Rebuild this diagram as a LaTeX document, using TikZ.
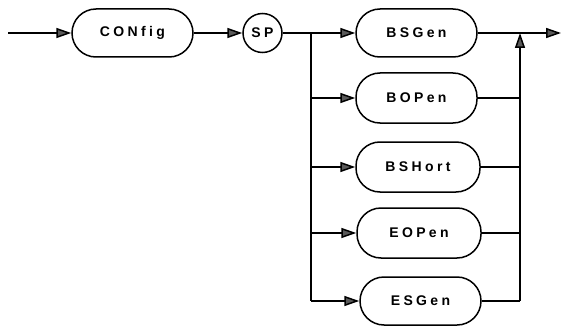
\documentclass[tikz,border=0pt]{standalone}
\usepackage{fontspec}
\setmainfont{Liberation Sans}
\newfontfamily\synfont[LetterSpace=24]{Liberation Sans Bold}
\usetikzlibrary{arrows.meta}
\definecolor{tipgray}{gray}{0.35}
\begin{document}
\begin{tikzpicture}[x=1pt,y=-1pt,
  line width=1.5pt,
  every node/.style={font=\synfont\fontsize{14}{16}\selectfont},
  kw/.style={draw,rounded corners=24pt,minimum width=121pt,minimum height=48pt,inner sep=0pt},
  spc/.style={draw,circle,minimum size=39pt,inner sep=0pt},
  arr/.style={-{Triangle[length=15pt,width=10pt,fill=tipgray,color=black]}}]
\useasboundingbox (0,0) rectangle (562,329);
\coordinate (start) at (8,33);
\node[kw] (config) at (132.5,33) {CONfig};
\node[spc] (sp) at (262.5,33) {SP};
\node[kw] (bsgen) at (416.5,33) {BSGen};
\node[kw,minimum height=50pt] (bopen) at (416.5,98) {BOPen};
\node[kw,minimum width=124pt,minimum height=50pt] (bshort) at (418,167) {BSHort};
\node[kw,minimum width=124pt,minimum height=50pt] (eopen) at (419,233) {EOPen};
\node[kw,minimum height=48pt] (esgen) at (420.5,301) {ESGen};
\coordinate (bl) at (311,33);
\coordinate (br) at (520,33);
\coordinate (end) at (561,33);
\coordinate (blb) at (311,301);
\coordinate (brb) at (520,301);

\draw[arr] (start) -- (config.west);
\draw[arr] (config.east) -- (sp.west);
\draw (sp.east) -- (bl);
\draw[arr] (bl) -- (bsgen.west);
\draw (bl) -- (blb);
\draw[arr] (bl |- bopen.west) -- (bopen.west);
\draw[arr] (bl |- bshort.west) -- (bshort.west);
\draw[arr] (bl |- eopen.west) -- (eopen.west);
\draw[arr] (blb) -- (esgen.west);
\draw[arr] (bsgen.east) -- (end);
\draw (bopen.east) -- (br |- bopen.east);
\draw (bshort.east) -- (br |- bshort.east);
\draw (eopen.east) -- (br |- eopen.east);
\draw (esgen.east) -- (brb);
\draw[arr] (brb) -- (br);
\end{tikzpicture}
\end{document}
